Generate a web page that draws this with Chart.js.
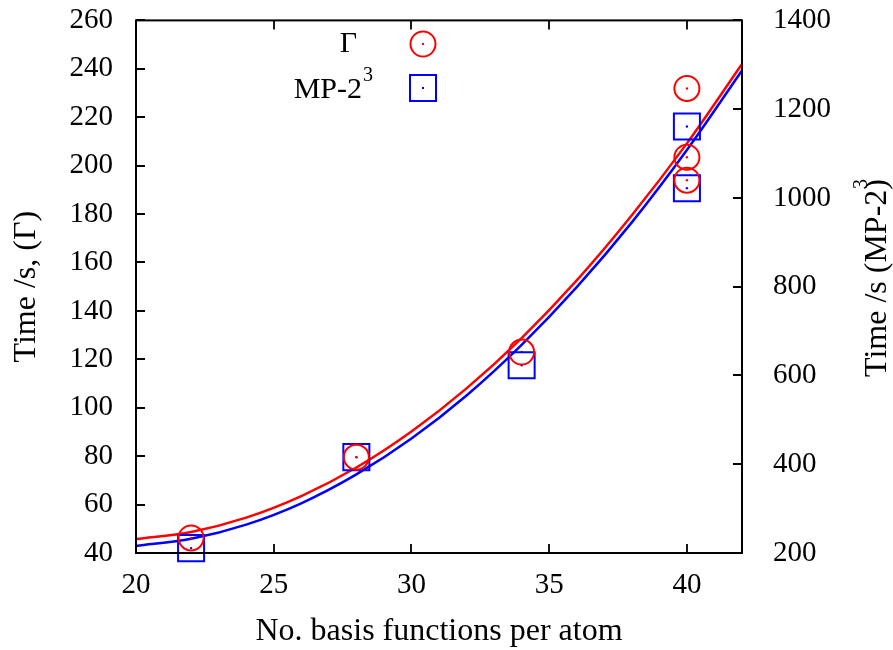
<!DOCTYPE html>
<html>
<head>
<meta charset="utf-8">
<title>Timing vs basis size</title>
<script src="https://cdn.jsdelivr.net/npm/chart.js@4.4.1/dist/chart.umd.min.js"></script>
<style>
  html, body { margin: 0; padding: 0; background: #fff; }
  #wrap { width: 893px; height: 650px; }
</style>
</head>
<body>
<div id="wrap"><canvas id="timingChart" width="893" height="650"></canvas></div>
<script>
const serif = "'Liberation Serif', 'DejaVu Serif', serif"
const red = '#ff0000'
const blue = '#0000ff'

// measured timings (Gamma on left axis, MP-2^3 on right axis)
const basisGamma = [22, 28, 34, 40, 40, 40]
const timeGamma = [46.2, 79.6, 123.0, 231.9, 203.5, 194.0]
const basisMp2 = [22, 28, 34, 40, 40]
const timeMp2 = [211, 416, 623, 1161, 1022]

// fitted curves, sampled across the x range
const fitBasis = [20, 22, 24, 26, 28, 30, 32, 34, 36, 38, 40, 42]
const fitGamma = [45.8, 48.7, 54.6, 63.5, 75.3, 90.2, 108.0, 128.8, 152.6, 179.5, 209.2, 242.0]
const fitMp2 = [216, 232, 264, 312, 377, 458, 555, 669, 799, 945, 1108, 1287]

const xTicks = [20, 25, 30, 35, 40]
const yTicks = [40, 60, 80, 100, 120, 140, 160, 180, 200, 220, 240, 260]
const y2Ticks = [200, 400, 600, 800, 1000, 1200, 1400]

const pairs = (xs, ys) => xs.map((x, i) => ({ x, y: ys[i] }))
const fixTicks = (values) => (scale) => {
  scale.ticks = values.map((value) => ({ value }))
}
const plain = (v) => String(v)
// fixed side widths so the plot box lands where it should
const sideWidth = (w) => (s) => {
  s.width = w
  s.paddingTop = 0
  s.paddingBottom = 0
}

// inward ticks on all four sides plus the box
const framePlugin = {
  id: 'frame',
  afterDatasetsDraw(chart) {
    const { ctx, chartArea: a, scales } = chart
    const len = 9
    ctx.save()
    ctx.strokeStyle = '#000'
    ctx.lineWidth = 1.8
    ctx.beginPath()
    xTicks.forEach((v) => {
      const px = Math.round(scales.x.getPixelForValue(v))
      ctx.moveTo(px, a.bottom)
      ctx.lineTo(px, a.bottom - len)
      ctx.moveTo(px, a.top)
      ctx.lineTo(px, a.top + len)
    })
    yTicks.forEach((v) => {
      const py = Math.round(scales.y.getPixelForValue(v))
      ctx.moveTo(a.left, py)
      ctx.lineTo(a.left + len, py)
    })
    y2Ticks.forEach((v) => {
      const py = Math.round(scales.y2.getPixelForValue(v))
      ctx.moveTo(a.right, py)
      ctx.lineTo(a.right - len, py)
    })
    ctx.stroke()
    ctx.lineWidth = 2
    ctx.strokeRect(a.left, a.top, a.right - a.left, a.bottom - a.top)
    ctx.restore()
  },
}

// axis titles and key, drawn gnuplot style
const textPlugin = {
  id: 'texts',
  afterDraw(chart) {
    const { ctx, chartArea: a } = chart
    ctx.save()
    ctx.fillStyle = '#000'
    ctx.textBaseline = 'middle'

    ctx.font = `32px ${serif}`
    ctx.textAlign = 'center'
    ctx.fillText('No. basis functions per atom', (a.left + a.right) / 2, 632)

    ctx.save()
    ctx.translate(27, (a.top + a.bottom) / 2)
    ctx.rotate(-Math.PI / 2)
    ctx.fillText('Time /s, (\u0393)', 0, 0)
    ctx.restore()

    ctx.save()
    ctx.translate(878, 278)
    ctx.rotate(-Math.PI / 2)
    const rightTitle = 'Time /s (MP-2)'
    const w = ctx.measureText(rightTitle).width
    ctx.textAlign = 'left'
    ctx.fillText(rightTitle, -w / 2, 0)
    ctx.font = `20px ${serif}`
    ctx.fillText('3', w / 2 - 10, -16)
    ctx.restore()

    // key
    ctx.font = `30px ${serif}`
    ctx.textAlign = 'right'
    ctx.fillText('\u0393', 357, 44)
    ctx.fillText('MP-2', 362, 90)
    ctx.font = `20px ${serif}`
    ctx.textAlign = 'left'
    ctx.fillText('3', 363, 76)

    ctx.lineWidth = 2
    ctx.strokeStyle = red
    ctx.beginPath()
    ctx.arc(423, 44, 12.5, 0, Math.PI * 2)
    ctx.stroke()
    ctx.fillStyle = red
    ctx.fillRect(422, 43, 2, 2)

    ctx.strokeStyle = blue
    ctx.strokeRect(410, 75, 26, 26)
    ctx.fillStyle = blue
    ctx.fillRect(422, 87, 2, 2)
    ctx.restore()
  },
}

const tickFont = { family: serif, size: 29 }

new Chart(document.getElementById('timingChart'), {
  type: 'line',
  data: {
    datasets: [
      {
        label: 'Gamma',
        data: pairs(basisGamma, timeGamma),
        yAxisID: 'y',
        showLine: false,
        pointStyle: 'circle',
        pointRadius: 12.5,
        pointBorderWidth: 2,
        borderColor: red,
        backgroundColor: 'rgba(0,0,0,0)',
        clip: false,
      },
      {
        label: 'MP-2^3',
        data: pairs(basisMp2, timeMp2),
        yAxisID: 'y2',
        showLine: false,
        pointStyle: 'rect',
        pointRadius: 18.4,
        pointBorderWidth: 2,
        borderColor: blue,
        backgroundColor: 'rgba(0,0,0,0)',
        clip: false,
      },
      {
        label: 'Gamma centre',
        data: pairs(basisGamma, timeGamma),
        yAxisID: 'y',
        showLine: false,
        pointRadius: 1.2,
        pointBorderWidth: 0,
        backgroundColor: red,
        borderColor: red,
        clip: false,
      },
      {
        label: 'MP-2^3 centre',
        data: pairs(basisMp2, timeMp2),
        yAxisID: 'y2',
        showLine: false,
        pointRadius: 1.2,
        pointBorderWidth: 0,
        backgroundColor: blue,
        borderColor: blue,
        clip: false,
      },
      {
        label: 'Gamma fit',
        data: pairs(fitBasis, fitGamma),
        yAxisID: 'y',
        borderColor: red,
        borderWidth: 2.5,
        pointRadius: 0,
        cubicInterpolationMode: 'monotone',
      },
      {
        label: 'MP-2^3 fit',
        data: pairs(fitBasis, fitMp2),
        yAxisID: 'y2',
        borderColor: blue,
        borderWidth: 2.5,
        pointRadius: 0,
        cubicInterpolationMode: 'monotone',
      },
    ],
  },
  options: {
    responsive: false,
    animation: false,
    devicePixelRatio: 1,
    layout: { padding: { top: 20, left: 0, right: 0, bottom: 0 } },
    plugins: { legend: { display: false }, tooltip: { enabled: false } },
    scales: {
      x: {
        type: 'linear',
        min: 20,
        max: 42,
        afterBuildTicks: fixTicks(xTicks),
        afterFit: (s) => { s.height = 97 },
        grid: { display: false, drawTicks: false },
        border: { display: false },
        ticks: { font: tickFont, color: '#000', padding: 15, maxRotation: 0, callback: plain },
      },
      y: {
        type: 'linear',
        position: 'left',
        min: 40,
        max: 260,
        afterBuildTicks: fixTicks(yTicks),
        afterFit: sideWidth(136),
        grid: { display: false, drawTicks: false },
        border: { display: false },
        ticks: { font: tickFont, color: '#000', padding: 23, callback: plain },
      },
      y2: {
        type: 'linear',
        position: 'right',
        min: 200,
        max: 1400,
        afterBuildTicks: fixTicks(y2Ticks),
        afterFit: sideWidth(151),
        grid: { display: false, drawTicks: false },
        border: { display: false },
        ticks: { font: tickFont, color: '#000', padding: 31, callback: plain },
      },
    },
  },
  plugins: [framePlugin, textPlugin],
})
</script>
</body>
</html>
